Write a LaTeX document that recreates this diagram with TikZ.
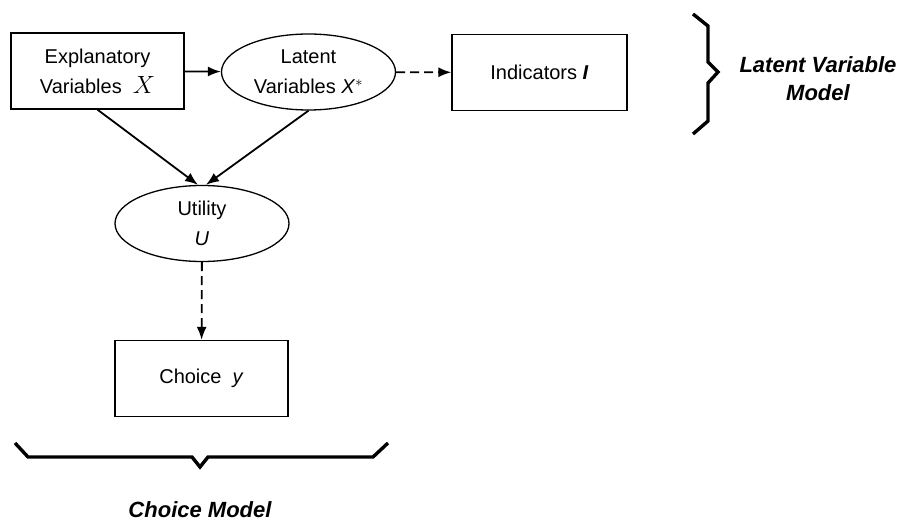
\documentclass[tikz,border=0pt]{standalone}
\usepackage{fontspec}
\setmainfont{Liberation Sans}
\usepackage{tikz}
\usetikzlibrary{arrows.meta,positioning,shapes.geometric}

\begin{document}
\begin{tikzpicture}[
  x=1pt, y=-1pt,
  every node/.style={font=\fontsize{20}{30}\selectfont},
  box/.style={rectangle, draw, line width=1.3pt, minimum width=173pt, minimum height=76pt, inner sep=0pt, align=center},
  oval/.style={ellipse, draw, line width=1.3pt, minimum width=174pt, minimum height=76pt, inner sep=0pt, align=center},
  arrow/.style={-{Latex[length=13pt,width=10pt]}, line width=1.8pt},
  dasharrow/.style={arrow, dash pattern=on 9pt off 5pt},
  brace/.style={line width=3.4pt, line join=miter},
  modellabel/.style={font=\fontsize{22}{28}\selectfont\bfseries\itshape, align=center}
]
\useasboundingbox (0,0) rectangle (908,526);
\node[box] (expl) at (97.5,71) {Explanatory\\Variables \ {\fontsize{25}{30}\selectfont$X$}};
\node[oval] (lat) at (308.5,72) {Latent\\Variables \textit{X}$^{*}$};
\node[box, minimum width=175pt] (ind) at (539.5,72.5) {Indicators \textbf{\textit{I}}};
\node[oval] (util) at (202,223.5) {Utility\\\textit{U}};
\node[box] (choice) at (201.5,378.5) {Choice \ \textit{y}};
\draw[arrow] (expl) -- (lat);
\draw[dasharrow] (lat) -- (ind);
\draw[arrow] (expl.south) -- ([xshift=-4pt]util.north);
\draw[arrow] (lat.south) -- ([xshift=4pt]util.north);
\draw[dasharrow] (util) -- (choice);
% braces
\draw[brace] (693,14) -- (708,26) -- (708,62) -- (718,72) -- (708,83) -- (708,121) -- (693,134);
\draw[brace] (15,443) -- (28,457) -- (192,457) -- (200,467) -- (208,457) -- (373,457) -- (388,443);
\node[modellabel] (lvm) at (818,79) {Latent Variable\\Model};
\node[modellabel] (cm) at (200,510) {Choice Model};
\end{tikzpicture}
\end{document}
